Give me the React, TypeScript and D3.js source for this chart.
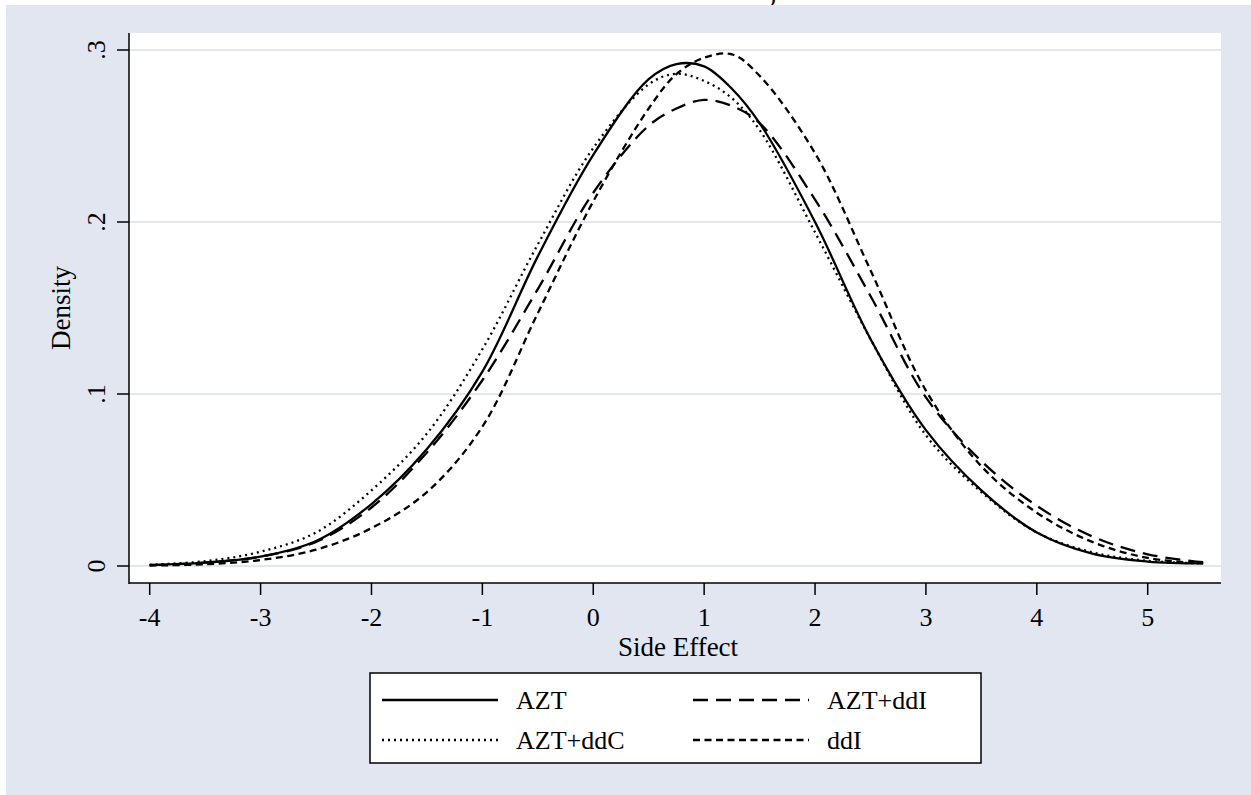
import React from "react";
import * as d3 from "d3";

// density estimates, shared x grid
const xGrid = [-4, -3.5, -3, -2.5, -2, -1.5, -1, -0.5, 0, 0.5, 0.75, 1, 1.25, 1.5, 2, 2.5, 3, 3.5, 4, 4.5, 5, 5.5];
const aztDensity = [0.0006, 0.002, 0.0054, 0.0145, 0.036, 0.068, 0.113, 0.18, 0.239, 0.283, 0.2918, 0.2905, 0.2775, 0.2575, 0.2, 0.132, 0.079, 0.044, 0.0195, 0.0072, 0.0026, 0.0015];
const aztDdiDensity = [0.0005, 0.002, 0.0055, 0.014, 0.034, 0.066, 0.108, 0.161, 0.217, 0.256, 0.266, 0.271, 0.2675, 0.2575, 0.213, 0.157, 0.098, 0.061, 0.035, 0.0172, 0.0068, 0.0022];
const aztDdcDensity = [0.0007, 0.0028, 0.0083, 0.0195, 0.044, 0.077, 0.126, 0.187, 0.243, 0.28, 0.2862, 0.282, 0.272, 0.2535, 0.194, 0.132, 0.076, 0.043, 0.0195, 0.008, 0.003, 0.0015];
const ddiDensity = [0.0003, 0.001, 0.0035, 0.0095, 0.022, 0.043, 0.081, 0.147, 0.212, 0.266, 0.286, 0.2955, 0.2975, 0.285, 0.24, 0.172, 0.102, 0.058, 0.031, 0.014, 0.0047, 0.0015];

const seriesNames = ["AZT", "AZT+ddI", "AZT+ddC", "ddI"];
const seriesDash = ["none", "15,8", "2,4", "7,4.5"];
const xTicks = [-4, -3, -2, -1, 0, 1, 2, 3, 4, 5];
const yTicks = [0, 0.1, 0.2, 0.3];
const yTickLabels = ["0", ".1", ".2", ".3"];

const W = 1251;
const H = 795;
const font = "'Liberation Serif', 'Times New Roman', serif";
const bg = "#E1E6F0";

export default function App() {
  const left = 129, right = 1221, top = 33, bottom = 583;
  const xScale = d3.scaleLinear().domain([-4, 5]).range([149.7, 1147.7]);
  const yScale = d3.scaleLinear().domain([0, 0.3]).range([566, 50]);

  const series = [aztDensity, aztDdiDensity, aztDdcDensity, ddiDensity];
  const line = d3.line<number>()
    .x((_, i) => xScale(xGrid[i]))
    .y(d => yScale(d))
    .curve(d3.curveCatmullRom.alpha(0.5));

  // legend layout: 2 columns x 2 rows
  const legCols = [382, 693];
  const legRows = [700, 740];

  return (
    <svg width={W} height={H} style={{ position: "absolute", left: 0, top: 0 }} fontFamily={font}>
      <rect x={0} y={0} width={W} height={H} fill="#fff" />
      {/* bottom of a clipped title glyph, as in the source image */}
      <text x={772} y={3} fontSize={26} fill="#000" textAnchor="middle">)</text>
      <rect x={6} y={5} width={W - 6} height={H - 5} fill={bg} />
      <rect x={left} y={top} width={right - left} height={bottom - top} fill="#fff" />

      {yTicks.map(t => (
        <line key={"g" + t} x1={left} x2={right} y1={yScale(t)} y2={yScale(t)} stroke={bg} strokeWidth={2} />
      ))}

      {series.map((s, i) => (
        <path key={seriesNames[i]} d={line(s) || ""} fill="none" stroke="#000" strokeWidth={2.3}
          strokeDasharray={seriesDash[i]} />
      ))}

      <line x1={left} x2={left} y1={top} y2={bottom + 1} stroke="#000" strokeWidth={1.5} />
      <line x1={left} x2={right} y1={bottom} y2={bottom} stroke="#000" strokeWidth={1.5} />

      {yTicks.map((t, i) => (
        <g key={"y" + t}>
          <line x1={left - 12} x2={left} y1={yScale(t)} y2={yScale(t)} stroke="#000" strokeWidth={1.5} />
          <text transform={`translate(105,${yScale(t)}) rotate(-90)`} textAnchor="middle" fontSize={26}>{yTickLabels[i]}</text>
        </g>
      ))}
      {xTicks.map(t => (
        <g key={"x" + t}>
          <line x1={xScale(t)} x2={xScale(t)} y1={bottom} y2={bottom + 12} stroke="#000" strokeWidth={1.5} />
          <text x={xScale(t)} y={626} textAnchor="middle" fontSize={26}>{t}</text>
        </g>
      ))}

      <text x={(left + right) / 2 + 3} y={656} textAnchor="middle" fontSize={27}>Side Effect</text>
      <text transform={`translate(70,${(top + bottom) / 2}) rotate(-90)`} textAnchor="middle" fontSize={27}>Density</text>

      <rect x={370} y={673} width={611} height={90} fill="#fff" stroke="#000" strokeWidth={1.5} />
      {seriesNames.map((name, i) => {
        const cx = legCols[i % 2];
        const cy = legRows[Math.floor(i / 2)];
        return (
          <g key={"l" + name}>
            <line x1={cx} x2={cx + 116} y1={cy} y2={cy} stroke="#000" strokeWidth={2.3} strokeDasharray={seriesDash[i]} />
            <text x={cx + 134} y={cy + 9} fontSize={26}>{name}</text>
          </g>
        );
      })}
    </svg>
  );
}
